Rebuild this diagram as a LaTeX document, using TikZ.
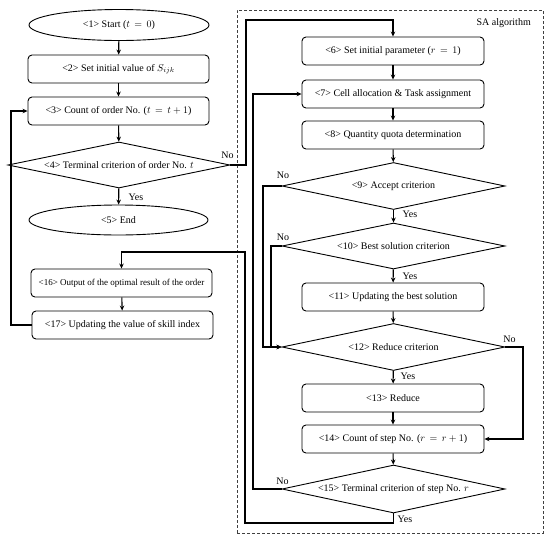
\documentclass[tikz,border=0pt]{standalone}
\usepackage{fontspec}
\setmainfont{Liberation Serif}
\usetikzlibrary{shapes.geometric,arrows.meta}
\begin{document}
\begin{tikzpicture}[x=1pt,y=-1pt,
  txt/.style={font=\fontsize{10}{12}\selectfont},
  stepbox/.style={draw, rounded corners=4pt, minimum width=181pt, minimum height=28pt, line width=0.9pt, inner sep=1pt, txt},
  ell/.style={draw, ellipse, minimum width=180pt, minimum height=31pt, line width=0.9pt, inner sep=0pt, txt},
  dia/.style={draw, diamond, aspect=4.85, minimum width=223pt, minimum height=47pt, inner sep=0pt, line width=0.9pt, txt},
  arr/.style={-{Stealth[length=5pt,width=4.5pt]}, line width=1.1pt},
  con/.style={line width=1.1pt},
  lbl/.style={txt, inner sep=0pt}]
\useasboundingbox (0,0) rectangle (550,542);
% dashed frame
\node[draw, dash pattern=on 3pt off 2pt, line width=0.9pt, black!75, minimum width=306pt, minimum height=523pt, inner sep=0pt] (frame) at (390,271.5) {};
\node[lbl, anchor=east] (sa) at (531,23.5) {SA algorithm};
% left column
\node[ell] (n1) at (119,25) {<1> Start ($t\,=\,0$)};
\node[stepbox] (n2) at (118.5,69) {<2> Set initial value of $S_{ijk}$};
\node[stepbox] (n3) at (118.5,111) {<3> Count of order No. ($t\,=\,t+1$)};
\node[dia, minimum width=222pt, minimum height=46pt] (n4) at (119,165) {<4> Terminal criterion of order No. $t$};
\node[ell, minimum width=179pt, minimum height=30pt] (n5) at (118.5,220) {<5> End};
\node[stepbox, font=\fontsize{9}{11}\selectfont] (n16) at (121.5,283) {<16> Output of the optimal result of the order};
\node[stepbox] (n17) at (122.5,325) {<17> Updating the value of skill index};
% right column
\node[stepbox, minimum width=182pt] (n6) at (393,51) {<6> Set initial parameter ($r\,=\,1$)};
\node[stepbox, minimum width=182pt] (n7) at (393,94) {<7> Cell allocation \& Task assignment};
\node[stepbox, minimum width=182pt] (n8) at (393,135) {<8> Quantity quota determination};
\node[dia] (n9) at (393.5,186) {<9> Accept criterion};
\node[dia, minimum height=46pt] (n10) at (393.5,246) {<10> Best solution criterion};
\node[stepbox, minimum width=182pt] (n11) at (393,297) {<11> Updating the best solution};
\node[dia] (n12) at (393.5,347) {<12> Reduce criterion};
\node[stepbox, minimum width=182pt] (n13) at (393,398) {<13> Reduce};
\node[stepbox, minimum width=182pt] (n14) at (393,439) {<14> Count of step No. ($r\,=\,r+1$)};
\node[dia, minimum height=48pt] (n15) at (393.5,489) {<15> Terminal criterion of step No. $r$};
% helper coordinates
\coordinate (c4a) at (246,20);
\coordinate (c9) at (263,186);
\coordinate (c10) at (271,246);
\coordinate (c12) at (523,347);
\coordinate (c15) at (253,489);
\coordinate (b1) at (393.5,523);
\coordinate (b2) at (245,252);
\coordinate (c17) at (11,325);
% connectors
\draw[arr] (n1) -- (n2);
\draw[arr] (n2) -- (n3);
\draw[arr] (n3) -- (n4);
\draw[arr] (n4) -- (n5);
\draw[arr] (n4.east) -| (c4a) -| (n6.north);
\draw[arr] (n6) -- (n7);
\draw[arr] (n7) -- (n8);
\draw[arr] (n8) -- (n9);
\draw[arr] (n9) -- (n10);
\draw[arr] (n10) -- (n11);
\draw[arr] (n11) -- (n12);
\draw[arr] (n12) -- (n13);
\draw[arr] (n13) -- (n14);
\draw[arr] (n14) -- (n15);
\draw[arr] (n9.west) -- (c9) |- (n12.west);
\draw[arr] (n10.west) -- (c10) |- (n12.west);
\draw[arr] (n12.east) -- (c12) |- (n14.east);
\draw[arr] (n15.west) -- (c15) |- (n7.west);
\draw[arr] (n15.south) -- (b1) -| (b2) -| (n16.north);
\draw[arr] (n16) -- (n17);
\draw[arr] (n17.west) -- (c17) |- (n3.west);
% labels
\node[lbl] (no4) at (227.5,155.5) {No};
\node[lbl] (yes4) at (136,197) {Yes};
\node[lbl] (no9) at (283,175.5) {No};
\node[lbl] (yes9) at (410,214.5) {Yes};
\node[lbl] (no10) at (283,237) {No};
\node[lbl] (yes10) at (410,276) {Yes};
\node[lbl] (no12) at (509.5,339.5) {No};
\node[lbl] (yes12) at (408,376.5) {Yes};
\node[lbl] (no15) at (282.5,481) {No};
\node[lbl] (yes15) at (405,519) {Yes};
\end{tikzpicture}
\end{document}
